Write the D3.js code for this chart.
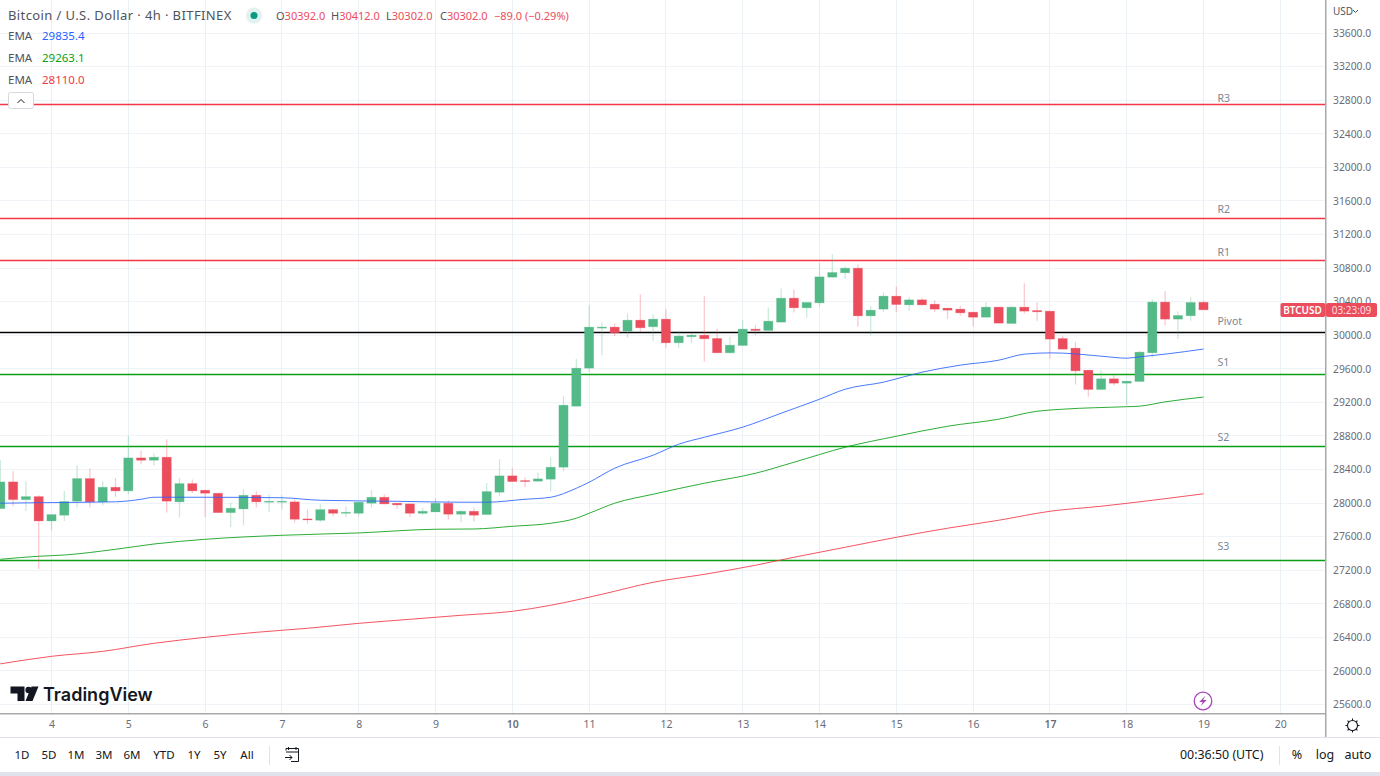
<!DOCTYPE html>
<html><head><meta charset="utf-8">
<script src="https://cdn.jsdelivr.net/npm/d3@7"></script>
<style>
html,body{margin:0;padding:0;background:#fff;overflow:hidden}
svg{display:block}
text{font-family:"Noto Sans","Open Sans",sans-serif}
</style></head><body><svg id="c" width="1380" height="776"></svg>
<script>
const opens=[27934,28252,28041,28077,27787,27855,28022,28292,28014,28188,28145,28538,28510,28546,28014,28232,28153,28117,27886,27930,28093,28010,28010,28014,27811,27795,27922,27882,27878,27998,28069,27998,27990,27878,27894,27998,27867,27902,27863,28129,28324,28268,28260,28284,28427,29154,29607,30084,30096,30048,30179,30100,30191,29909,29981,30000,29961,29790,29877,30072,30056,30155,30441,30326,30385,30691,30743,30798,30230,30310,30465,30361,30421,30369,30322,30310,30274,30214,30334,30139,30334,30294,30286,29960,29845,29583,29353,29480,29428,29448,29790,30394,30191,30231,30392];
const closes=[28252,28041,28077,27787,27863,28018,28292,28014,28188,28145,28538,28510,28546,28022,28232,28145,28117,27886,27938,28093,28014,28022,28022,27807,27799,27922,27878,27890,28010,28069,27990,27978,27878,27902,27998,27867,27902,27855,28137,28324,28256,28256,28288,28427,29166,29607,30096,30096,30028,30179,30088,30191,29909,29989,30000,29957,29790,29881,30072,30056,30167,30441,30326,30390,30695,30747,30798,30230,30298,30465,30365,30421,30361,30310,30298,30266,30214,30334,30143,30334,30286,30278,29953,29833,29575,29353,29480,29428,29452,29798,30394,30191,30235,30390,30302];
const highs=[28510,28379,28260,28093,27863,28145,28451,28411,28260,28300,28800,28622,28590,28760,28300,28280,28153,28117,28006,28165,28141,28105,28093,28045,27922,27986,27925,27962,28010,28153,28105,28002,27992,27946,28057,28029,27914,27946,28240,28522,28415,28308,28367,28546,29273,29718,30358,30151,30139,30259,30489,30247,30310,30052,30028,30465,30080,29981,30179,30120,30330,30557,30545,30390,30862,30965,30822,30842,30346,30508,30576,30453,30445,30417,30322,30346,30280,30393,30334,30346,30620,30389,30286,29992,29921,29583,29583,29523,29452,29814,30425,30525,30286,30453,30412];
const lows=[27934,27962,27906,27211,27676,27787,27946,27946,27974,28073,28105,28463,28443,27886,27827,28121,27835,27880,27716,27735,27946,27894,27926,27767,27755,27775,27843,27835,27843,27946,27982,27930,27835,27859,27894,27803,27771,27783,27863,28081,28256,28192,28260,28137,28379,29154,29563,29762,29989,29969,30040,29933,29849,29845,29909,29683,29790,29782,29877,30000,30056,30155,30271,30207,30338,30691,30671,30099,29999,30274,30274,30290,30354,30274,30191,30230,30107,30214,30143,30139,30258,30171,29722,29833,29412,29265,29345,29404,29166,29448,29730,30119,29953,30171,30302];

const blueBars=[0,3,9,11,12,16,22,25,31,36,38,41,43,45,46,48,51,53,55,58,61,64,66,69,72,75,78,80,82,83,86,88,89,91,94];
const blueVals=[27998,28004,28015,28045,28069,28069,28063,28033,28021,28010,28010,28045,28069,28176,28248,28415,28570,28701,28784,28904,29070,29237,29356,29440,29559,29643,29702,29774,29789,29786,29750,29726,29742,29774,29835];
const greenBars=[0,3,5,9,12,16,22,28,34,37,40,43,45,46,48,51,55,59,62,66,70,74,78,81,83,88,89,91,94];
const greenVals=[27330,27366,27381,27449,27512,27568,27616,27644,27688,27691,27723,27759,27819,27878,27998,28105,28236,28355,28486,28665,28796,28915,28999,29094,29118,29148,29154,29205,29263];
const redBars=[0,4,8,12,16,20,24,28,32,36,40,43,47,51,55,59,62,66,70,74,78,82,86,90,94];
const redVals=[26084,26174,26233,26329,26400,26460,26508,26567,26615,26663,26710,26782,26913,27056,27151,27259,27354,27473,27592,27700,27795,27902,27962,28033,28110];

const levelNames=["R3","R2","R1","Pivot","S1","S2","S3"];
const levelVals=[32748,31395,30888,30030,29529,28671,27312];
const levelColors=["#f23645","#f23645","#f23645","#000000","#089f14","#089f14","#089f14"];

const priceTicks=[33600,33200,32800,32400,32000,31600,31200,30800,30400,30000,29600,29200,28800,28400,28000,27600,27200,26800,26400,26000,25600];
const dayTicks=[4,5,6,7,8,9,10,11,12,13,14,15,16,17,18,19,20];
const boldDays=[10,17];
const rangeLabels=["1D","5D","1M","3M","6M","YTD","1Y","5Y","All"];
const emaValues=["29835.4","29263.1","28110.0"];
const emaColors=["#2962ff","#089f14","#f23645"];

const W=1380,H=776,plotR=1325,plotB=713;
const GREEN="#53b987",RED="#eb4d5c",TXT="#50535e",AX="#6a6d78";
const svg=d3.select("#c");
const y=d3.scaleLinear().domain([25600,33600]).range([704.5,33]);
const xBar=d3.scaleLinear().domain([0,94]).range([0.3,1203.5]);
const xDay=d3.scaleLinear().domain([4,20]).range([xBar(4),xBar(100)]);
const r5=v=>Math.round(v-.5)+.5;

svg.append("rect").attr("width",W).attr("height",H).attr("fill","#fff");
const plot=svg.append("g");

// grid
plot.append("g").selectAll("line").data(priceTicks).join("line")
 .attr("x1",0).attr("x2",plotR).attr("y1",d=>r5(y(d))).attr("y2",d=>r5(y(d))).attr("stroke","#f0f3f8");
plot.append("g").selectAll("line").data(dayTicks).join("line")
 .attr("y1",0).attr("y2",plotB).attr("x1",d=>r5(xDay(d))).attr("x2",d=>r5(xDay(d))).attr("stroke","#e9f1f5");

// levels
plot.append("g").selectAll("line").data(levelVals).join("line")
 .attr("x1",0).attr("x2",plotR).attr("y1",d=>r5(y(d))).attr("y2",d=>r5(y(d)))
 .attr("stroke",(d,i)=>levelColors[i]).attr("stroke-width",1.5);
const lblDy={R3:-6.5,R2:-9,R1:-8.5,Pivot:-11.5,S1:-12.5,S2:-9.5,S3:-14.5};
plot.append("g").selectAll("text").data(levelNames).join("text")
 .attr("x",1217.5).attr("y",(d,i)=>y(levelVals[i])+lblDy[d]+4)
 .attr("font-size",10.5).attr("fill","#7d8592").text(d=>d);

// candles
const idx=d3.range(opens.length);
const col=i=>closes[i]>=opens[i]?GREEN:RED;
const gc=plot.append("g");
gc.selectAll("line").data(idx).join("line")
 .attr("x1",i=>xBar(i)).attr("x2",i=>xBar(i))
 .attr("y1",i=>y(highs[i])).attr("y2",i=>y(lows[i]))
 .attr("stroke",col).attr("stroke-width",1.2).attr("stroke-opacity",.32);
gc.selectAll("rect").data(idx).join("rect")
 .attr("x",i=>xBar(i)-4.6).attr("width",9.2)
 .attr("y",i=>Math.min(y(opens[i]),y(closes[i])))
 .attr("height",i=>Math.max(1,Math.abs(y(opens[i])-y(closes[i]))))
 .attr("fill",col).attr("stroke",col).attr("stroke-width",.8).attr("stroke-opacity",.3);

// EMAs
const line=d3.line().x(d=>xBar(d[0])).y(d=>y(d[1])).curve(d3.curveMonotoneX);
[[blueBars,blueVals,emaColors[0]],[greenBars,greenVals,emaColors[1]],[redBars,redVals,emaColors[2]]].forEach(([b,v,c])=>{
 plot.append("path").datum(b.map((k,i)=>[k,v[i]])).attr("d",line).attr("fill","none").attr("stroke",c).attr("stroke-width",1).attr("stroke-opacity",.85);
});

// Axes background and frames
svg.append("rect").attr("x",plotR).attr("y",0).attr("width",W-plotR).attr("height",737).attr("fill","#fff");
svg.append("rect").attr("x",0).attr("y",plotB).attr("width",W).attr("height",24).attr("fill","#fff");
const yAxis=d3.axisRight(y).tickValues(priceTicks).tickSize(0).tickPadding(8).tickFormat(d3.format(".1f"));
const ya=svg.append("g").attr("transform",`translate(${plotR},0)`).call(yAxis);
ya.select(".domain").remove();
ya.selectAll("text").attr("font-size",10.3).attr("fill",AX).attr("font-family",'"Noto Sans"');
const xAxis=d3.axisBottom(xDay).tickValues(dayTicks).tickSize(0).tickPadding(8).tickFormat(d3.format("d"));
const xa=svg.append("g").attr("transform",`translate(0,${plotB})`).call(xAxis);
xa.select(".domain").remove();
xa.selectAll("text").attr("font-size",10.5).attr("fill",AX).attr("font-family",'"Noto Sans"')
 .attr("font-weight",d=>boldDays.includes(d)?600:400);
svg.append("rect").attr("x",0).attr("y",713).attr("width",1325).attr("height",1.5).attr("fill","#a8a9ad");
svg.append("rect").attr("x",1325).attr("y",0).attr("width",1.5).attr("height",737).attr("fill","#a8a9ad");
svg.append("line").attr("x1",0).attr("x2",W).attr("y1",737.5).attr("y2",737.5).attr("stroke","#e0e3eb");
svg.append("rect").attr("x",0).attr("y",772).attr("width",W).attr("height",4).attr("fill","#e0e3eb");

// gear
const gear=svg.append("g").attr("transform","translate(1352.5,725.5)").attr("fill","none").attr("stroke","#131722").attr("stroke-width",1.1);
gear.append("circle").attr("r",5);
d3.range(8).forEach(k=>{const a=k*Math.PI/4;gear.append("line").attr("x1",5*Math.cos(a)).attr("y1",5*Math.sin(a)).attr("x2",7*Math.cos(a)).attr("y2",7*Math.sin(a));});

// currency
svg.append("text").attr("x",1333).attr("y",14.5).attr("font-size",10).attr("fill","#50535e").text("USD");
svg.append("path").attr("d","M1353 10l2.5 2.5 2.5-2.5").attr("fill","none").attr("stroke","#50535e");

// price tag
svg.append("rect").attr("x",1280.5).attr("y",303).attr("width",45).attr("height",14).attr("rx",2).attr("fill",RED);
svg.append("text").attr("x",1302.5).attr("y",314).attr("text-anchor","middle").attr("font-size",10).attr("font-weight",600).attr("fill","#fff").text("BTCUSD");
svg.append("rect").attr("x",1326).attr("y",303).attr("width",51).attr("height",14).attr("rx",2).attr("fill",RED);
svg.append("text").attr("x",1351.5).attr("y",314).attr("text-anchor","middle").attr("font-size",10).attr("fill","#ffdfe2").text("03:23:09");

// legend
svg.append("text").attr("x",8).attr("y",20).attr("font-size",13).attr("letter-spacing",.4).attr("fill",TXT).text("Bitcoin / U.S. Dollar · 4h · BITFINEX");
svg.append("circle").attr("cx",254).attr("cy",15.5).attr("r",8).attr("fill","#e2f2ef");
svg.append("circle").attr("cx",254).attr("cy",15.5).attr("r",3.5).attr("fill","#089981");
const ohlc=[["O",276,"30392.0"],["H",331,"30412.0"],["L",386,"30302.0"],["C",440,"30302.0"]];
ohlc.forEach(([k,xx,v])=>{
 const t=svg.append("text").attr("x",xx).attr("y",20).attr("font-size",11);
 t.append("tspan").attr("fill",TXT).text(k);
 t.append("tspan").attr("fill",RED).text(v);
});
svg.append("text").attr("x",494).attr("y",20).attr("font-size",11).attr("fill",RED).text("−89.0 (−0.29%)");
svg.selectAll(".ema").data(emaValues).join("g").attr("class","ema").each(function(d,i){
 const g=d3.select(this),yy=[40,62,83.5][i];
 g.append("text").attr("x",8).attr("y",yy).attr("font-size",11.5).attr("fill",TXT).text("EMA");
 g.append("text").attr("x",42).attr("y",yy).attr("font-size",11.5).attr("fill",emaColors[i]).text(d);
});
svg.append("rect").attr("x",8.5).attr("y",92.5).attr("width",25).attr("height",16).attr("rx",2).attr("fill","#fff").attr("stroke","#d6d8df");
svg.append("path").attr("d","M17.5 103l3.5-3.5 3.5 3.5").attr("fill","none").attr("stroke","#131722");

// logo
const logo=svg.append("g").attr("fill","#131722");
logo.append("path").attr("d","M10.5 686.5H24.5V701H17.5V693.5H10.5Z");
logo.append("circle").attr("cx",28.6).attr("cy",690).attr("r",3.2);
logo.append("path").attr("d","M31.5 686.5H38.5L32.5 701H25.5Z");
svg.append("text").attr("x",43).attr("y",700.5).attr("font-size",18).attr("font-weight",600).attr("fill","#131722")
 .style("font-family","Inter").text("TradingView");

// bolt
const bolt=svg.append("g").attr("transform","translate(1203,701)");
bolt.append("circle").attr("r",8.8).attr("fill","#fff").attr("stroke","#ab47bc").attr("stroke-width",1.3);
bolt.append("path").attr("d","M2.2-5L-3.8 1H-.3L-2.2 5L3.8-1H.3Z").attr("fill","#ab47bc");

// bottom toolbar
const rx=[22,49,76,104,132,164,194,220,247];
svg.append("g").selectAll("text").data(rangeLabels).join("text")
 .attr("x",(d,i)=>rx[i]).attr("y",759).attr("text-anchor","middle").attr("font-size",11.5).attr("fill","#131722").text(d=>d);
svg.append("line").attr("x1",269.5).attr("x2",269.5).attr("y1",746).attr("y2",765).attr("stroke","#e0e3eb");
svg.append("path").attr("d","M286 750.5V748.5H298.5V761.5H291M288.5 747V750M296 747V750M286 752H298.5M285 757.5H292M289.5 755L292 757.5L289.5 760")
 .attr("fill","none").attr("stroke","#131722").attr("stroke-width",1);
svg.append("text").attr("x",1180).attr("y",759).attr("font-size",12.4).attr("fill","#131722").text("00:36:50 (UTC)");
svg.append("line").attr("x1",1279.5).attr("x2",1279.5).attr("y1",746).attr("y2",765).attr("stroke","#e0e3eb");
[["%",1297],["log",1325],["auto",1358]].forEach(([s,xx])=>svg.append("text").attr("x",xx).attr("y",759).attr("text-anchor","middle").attr("font-size",12.5).attr("fill","#131722").text(s));
</script></body></html>
